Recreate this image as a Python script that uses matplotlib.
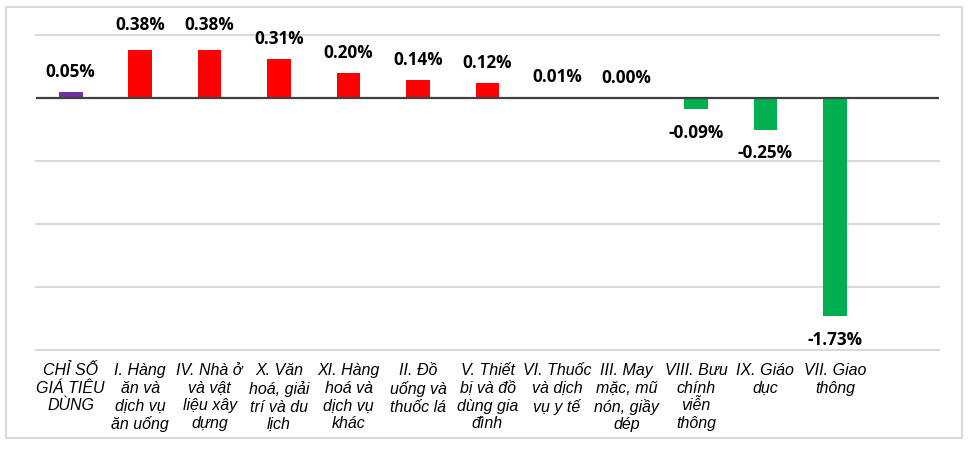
import matplotlib
matplotlib.use("Agg")
import matplotlib.pyplot as plt
from matplotlib.patches import Rectangle

categories = [
    "CHỈ SỐ\nGIÁ TIÊU\nDÙNG",
    "I. Hàng\năn và\ndịch vụ\năn uống",
    "IV. Nhà ở\nvà vật\nliệu xây\ndựng",
    "X. Văn\nhoá, giải\ntrí và du\nlịch",
    "XI. Hàng\nhoá và\ndịch vụ\nkhác",
    "II. Đồ\nuống và\nthuốc lá",
    "V. Thiết\nbị và đồ\ndùng gia\nđình",
    "VI. Thuốc\nvà dịch\nvụ y tế",
    "III. May\nmặc, mũ\nnón, giầy\ndép",
    "VIII. Bưu\nchính\nviễn\nthông",
    "IX. Giáo\ndục",
    "VII. Giao\nthông",
]
values = [0.05, 0.38, 0.38, 0.31, 0.20, 0.14, 0.12, 0.01, 0.00, -0.09, -0.25, -1.73]
labels = ["0.05%", "0.38%", "0.38%", "0.31%", "0.20%", "0.14%", "0.12%",
          "0.01%", "0.00%", "-0.09%", "-0.25%", "-1.73%"]

PURPLE = "#7030A0"
RED = "#FF0000"
GREEN = "#00B050"
colors = [PURPLE] + [RED if v >= 0 else GREEN for v in values[1:]]

W, H = 973, 451
fig = plt.figure(figsize=(W / 100, H / 100), dpi=100)
ax = fig.add_axes([36 / W, 1 - 350 / H, (939 - 36) / W, (350 - 35) / H])

x = list(range(len(values)))
ax.bar(x, values, width=0.34, color=colors, zorder=3)

ax.set_xlim(-0.5, 12.5)
ax.set_ylim(-2.0, 0.5)
for yv in [0.5, -0.5, -1.0, -1.5, -2.0]:
    ax.axhline(yv, color="#D9D9D9", lw=1.5, zorder=1, clip_on=False)
ax.axhline(0, color="#404040", lw=1.6, zorder=4)

for s in ax.spines.values():
    s.set_visible(False)
ax.set_yticks([])
ax.set_xticks([])

# label offsets in points (above positive bars, below negative bars)
up_off = [14.5, 18, 18, 14.5, 14.5, 14.5, 14.5, 14.5, 14.5, 0, 0, 0]
lab_font = dict(family=["Open Sans", "DejaVu Sans"], fontweight="bold", fontsize=12.3, color="black")
for xi, v, t, uo in zip(x, values, labels, up_off):
    if v >= 0:
        ax.annotate(t, (xi, v), xytext=(0, uo), textcoords="offset points",
                    ha="center", va="center", **lab_font)
    else:
        ax.annotate(t, (xi, v), xytext=(0, -17), textcoords="offset points",
                    ha="center", va="center", **lab_font)

for xi, c in zip(x, categories):
    ax.annotate(c, (xi, -2.0), xytext=(0, -9.5), textcoords="offset points",
                ha="center", va="top", fontsize=11.5, style="italic",
                family=["Liberation Sans", "DejaVu Sans"], color="black",
                linespacing=1.22, annotation_clip=False)

fig.patches.append(Rectangle((6 / W, 1 - 438 / H), (962 - 6) / W, (438 - 7) / H,
                             transform=fig.transFigure, fill=False,
                             edgecolor="#D9D9D9", lw=1.5))

fig.savefig("out.png", dpi=100)
